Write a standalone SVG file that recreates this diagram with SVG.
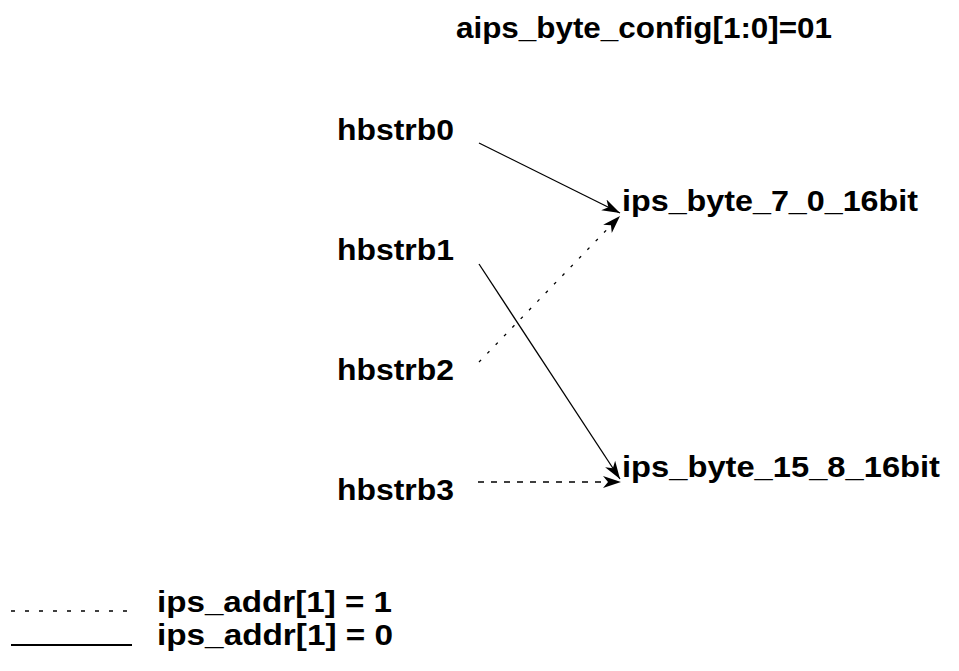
<svg xmlns="http://www.w3.org/2000/svg" width="959" height="671" viewBox="0 0 959 671">
<style>
text { font-family: "Liberation Sans", Arial, sans-serif; font-weight: bold; font-size: 30px; fill: #000; }
.ln { stroke: #000; stroke-width: 1.3; fill: none; }
.dash { stroke-dasharray: 3 9; }
.hdash { stroke-dasharray: 6 7; stroke-width: 1.6; }
</style>
<defs>
<marker id="ah" markerUnits="userSpaceOnUse" markerWidth="20" markerHeight="14" refX="18" refY="7" orient="auto" viewBox="0 0 20 14">
<path d="M0,1 L18,7 L0,13 L5,7 Z" fill="#000"/>
</marker>
</defs>
<rect width="959" height="671" fill="#fff"/>
<g id="title"><text x="456" y="38" textLength="376" lengthAdjust="spacingAndGlyphs">aips_byte_config[1:0]=01</text></g>
<g id="hbstrb0"><text x="337" y="140" textLength="117" lengthAdjust="spacingAndGlyphs">hbstrb0</text></g>
<g id="hbstrb1"><text x="337" y="260" textLength="117" lengthAdjust="spacingAndGlyphs">hbstrb1</text></g>
<g id="hbstrb2"><text x="337" y="380" textLength="117" lengthAdjust="spacingAndGlyphs">hbstrb2</text></g>
<g id="hbstrb3"><text x="337" y="500" textLength="117" lengthAdjust="spacingAndGlyphs">hbstrb3</text></g>
<g id="ips_byte_7_0_16bit"><text x="622" y="211" textLength="296" lengthAdjust="spacingAndGlyphs">ips_byte_7_0_16bit</text></g>
<g id="ips_byte_15_8_16bit"><text x="622" y="477" textLength="318" lengthAdjust="spacingAndGlyphs">ips_byte_15_8_16bit</text></g>
<g id="connectors">
<line class="ln" x1="479" y1="143" x2="620" y2="213" marker-end="url(#ah)"/>
<line class="ln dash" x1="479" y1="362" x2="620" y2="216" marker-end="url(#ah)"/>
<line class="ln" x1="479" y1="264" x2="620" y2="479" marker-end="url(#ah)"/>
<line class="ln hdash" x1="478" y1="482" x2="621" y2="482" marker-end="url(#ah)"/>
</g>
<g id="legend">
<line class="ln" x1="11" y1="611" x2="134" y2="611" style="stroke-dasharray:4 10;stroke-width:1.6"/>
<text x="157" y="612" textLength="235" lengthAdjust="spacingAndGlyphs">ips_addr[1] = 1</text>
<line class="ln" x1="11" y1="645" x2="132" y2="645" style="stroke-width:1.8"/>
<text x="157" y="645" textLength="236" lengthAdjust="spacingAndGlyphs">ips_addr[1] = 0</text>
</g>
</svg>
